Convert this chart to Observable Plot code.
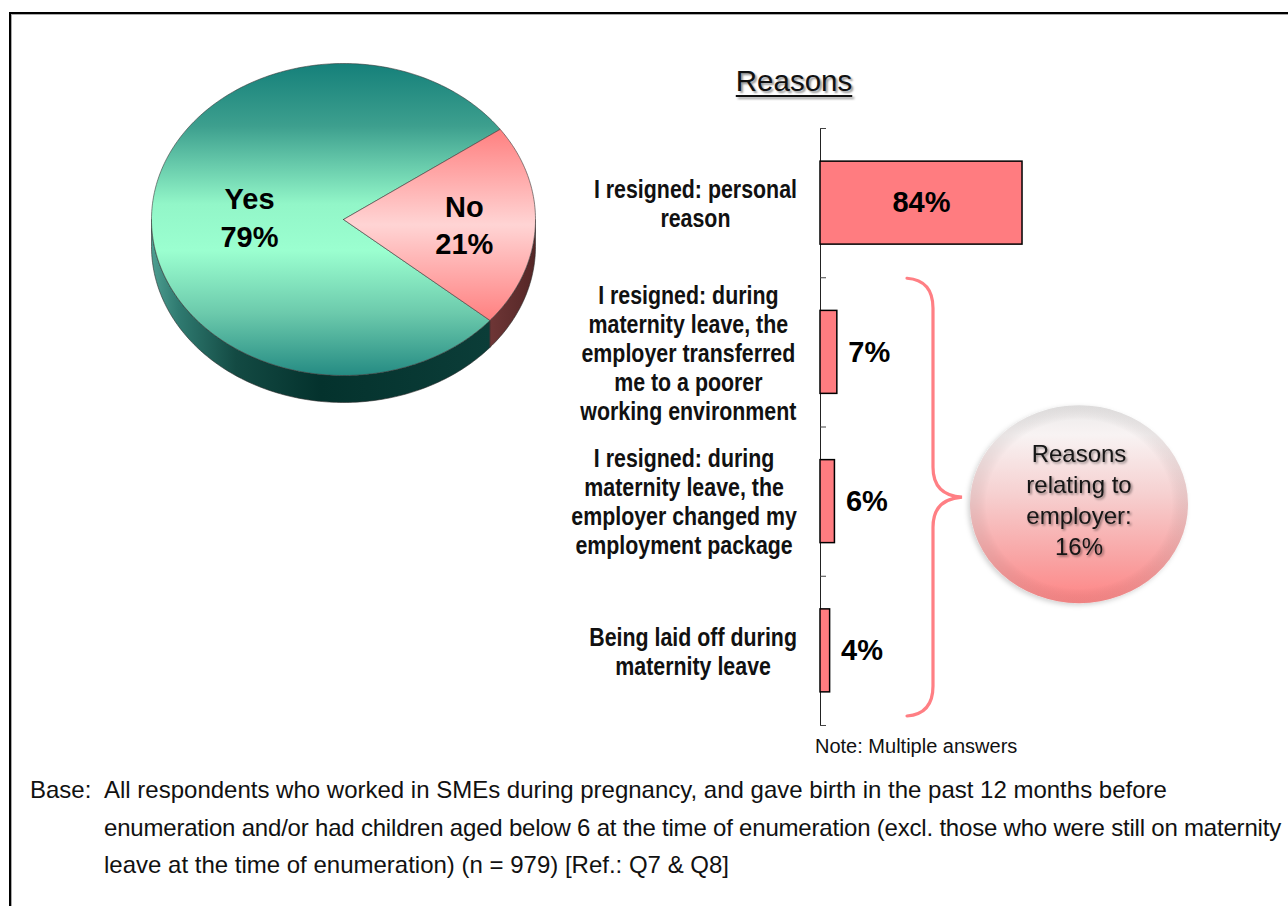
<!DOCTYPE html>
<html>
<head>
<meta charset="utf-8">
<script src="https://cdn.jsdelivr.net/npm/d3@7"></script>
<script src="https://cdn.jsdelivr.net/npm/@observablehq/plot@0.6"></script>
<style>
html, body { margin: 0; padding: 0; background: #fff; overflow: hidden; }
#root { position: relative; width: 1288px; height: 906px; overflow: hidden; background: #fff;
  font-family: "Liberation Sans", Arial, sans-serif; color: #111; }
#root svg { position: absolute; }
#frame { position: absolute; left: 9px; top: 12px; width: 1400px; height: 1000px;
  border-top: 2px solid #000; border-left: 2px solid #000; box-shadow: inset 1px 1px 0 #aaa; }
#title { position: absolute; left: 694px; top: 63px; width: 200px; text-align: center;
  font-size: 29.5px; line-height: 36px; text-decoration: underline; text-underline-offset: 4px;
  text-decoration-thickness: 2px; color: #111; text-shadow: 2px 2px 2px #999; }
#note { position: absolute; left: 815px; top: 734px; font-size: 20px; line-height: 24px; white-space: nowrap; }
#base { position: absolute; left: 30px; top: 771px; font-size: 24px; line-height: 37.5px; white-space: nowrap; }
#base .lbl { display: inline-block; width: 74px; }
#base .ind { padding-left: 74px; }
#base .t1 { letter-spacing: -0.2px; }
</style>
</head>
<body>
<div id="root"></div>
<script>
// ---------------- data ----------------
const pieCategories = ["Yes", "No"];
const pieValues = [79, 21];

const reasonCategories = [
  "I resigned: personal\nreason",
  "I resigned: during\nmaternity leave, the\nemployer transferred\nme to a poorer\nworking environment",
  "I resigned: during\nmaternity leave, the\nemployer changed my\nemployment package",
  "Being laid off during\nmaternity leave"
];
const reasonValues = [84, 7, 6, 4];

const employerLabel = ["Reasons", "relating to", "employer:"];
const employerShare = 16;

const titleText = "Reasons";
const noteText = "Note: Multiple answers";
const baseLabel = "Base:";
const baseLines = [
  "All respondents who worked in SMEs during pregnancy, and gave birth in the past 12 months before",
  "enumeration and/or had children aged below 6 at the time of enumeration (excl. those who were still on maternity",
  "leave at the time of enumeration) (n = 979) [Ref.: Q7 & Q8]"
];

// ---------------- layout / style constants ----------------
const FONT = "Liberation Sans, Arial, sans-serif";
const PIE_START = 35.3;      // degrees, counter-clockwise from 3 o'clock
const PIE_DEPTH = 0.173;     // side depth in y units of the pie scale
const PIE_LABEL_R = {Yes: 0.49, No: 0.63};
const BAR_PAD = 0.222;
const LABEL_RIGHT = 797;     // page x of the right edge of the category label blocks
const LABEL_SQUEEZE = 0.855; // narrow (condensed) look of the category labels

const root = document.getElementById("root");

function defsMark(markup) {
  return () => {
    const g = document.createElementNS("http://www.w3.org/2000/svg", "g");
    g.innerHTML = markup;
    return g;
  };
}

// ---------------- pie ----------------
const total = d3.sum(pieValues);
let acc = PIE_START;
const slices = pieCategories.map((c, i) => {
  const a0 = acc, a1 = acc + pieValues[i] / total * 360;
  acc = a1;
  return {cat: c, value: pieValues[i], a0, a1, mid: (a0 + a1) / 2};
});
const rad = (a) => a * Math.PI / 180;
function arcPts(a0, a1, dy = 0) {
  const n = Math.max(2, Math.ceil(Math.abs(a1 - a0)));
  return d3.range(n + 1).map(k => {
    const t = rad(a0 + (a1 - a0) * k / n);
    return {x: Math.cos(t), y: Math.sin(t) + dy};
  });
}
const topFill = {Yes: "url(#gYesTop)", No: "url(#gNoTop)"};
const sideFill = {Yes: "url(#gYesSide)", No: "url(#gNoSide)"};

const sideMarks = [];
const topMarks = [];
slices.forEach(s => {
  for (const base of [180, 540]) {
    const lo = Math.max(s.a0, base), hi = Math.min(s.a1, base + 180);
    if (hi > lo) {
      const pts = [...arcPts(lo, hi), ...arcPts(hi, lo, -PIE_DEPTH)];
      pts.push(pts[0]);
      sideMarks.push(Plot.line(pts, {x: "x", y: "y", fill: sideFill[s.cat], stroke: "#2b2b2b", strokeWidth: 0.6, strokeLinejoin: "round"}));
    }
  }
  const pts = [{x: 0, y: 0}, ...arcPts(s.a0, s.a1), {x: 0, y: 0}];
  topMarks.push(Plot.line(pts, {x: "x", y: "y", fill: topFill[s.cat], stroke: "#3a3a3a", strokeWidth: 0.6, strokeLinejoin: "round"}));
});

const pieDefs = defsMark(`<defs>
<linearGradient id="gYesTop" x1="0" y1="0" x2="0" y2="1">
  <stop offset="0" stop-color="#15807a"/>
  <stop offset="0.2" stop-color="#3d9f8e"/>
  <stop offset="0.45" stop-color="#92f6c8"/>
  <stop offset="0.6" stop-color="#9bffd0"/>
  <stop offset="0.8" stop-color="#6ccaac"/>
  <stop offset="1" stop-color="#258b83"/>
</linearGradient>
<linearGradient id="gNoTop" x1="0" y1="0" x2="0" y2="1">
  <stop offset="0" stop-color="#ff8080"/>
  <stop offset="0.5" stop-color="#ffd4d4"/>
  <stop offset="1" stop-color="#ff8080"/>
</linearGradient>
<linearGradient id="gYesSide" x1="0" y1="0" x2="1" y2="0">
  <stop offset="0" stop-color="#4e9e91"/>
  <stop offset="0.08" stop-color="#2f7a70"/>
  <stop offset="0.25" stop-color="#134a43"/>
  <stop offset="0.5" stop-color="#04322d"/>
  <stop offset="1" stop-color="#0b3d38"/>
</linearGradient>
<linearGradient id="gNoSide" x1="0" y1="0" x2="1" y2="0">
  <stop offset="0" stop-color="#6e3636"/>
  <stop offset="1" stop-color="#542626"/>
</linearGradient>
</defs>`);

const pie = Plot.plot({
  width: 560, height: 430,
  style: {background: "transparent", overflow: "visible"},
  x: {domain: [-1, 1], range: [151, 535], axis: null},
  y: {domain: [-1, 1], range: [375, 63], axis: null},
  marks: [
    pieDefs,
    ...sideMarks,
    ...topMarks,
    Plot.text(slices, {
      x: d => PIE_LABEL_R[d.cat] * Math.cos(rad(d.mid)),
      y: d => PIE_LABEL_R[d.cat] * Math.sin(rad(d.mid)),
      text: d => `${d.cat}\n${d.value}%`,
      fontFamily: FONT, fontSize: 29, fontWeight: "bold", lineHeight: 1.28, fill: "#000"
    })
  ]
});
pie.style.left = "0px"; pie.style.top = "0px";
root.appendChild(pie);

// ---------------- bars ----------------
const rows = reasonCategories.map((c, i) => ({label: c, value: reasonValues[i], i}));

const barDefs = defsMark(`<defs>
<linearGradient id="gBubble" x1="0" y1="0" x2="0" y2="1">
  <stop offset="0" stop-color="#ebe9e9"/>
  <stop offset="0.15" stop-color="#f8f3f3"/>
  <stop offset="0.45" stop-color="#f6d0d0"/>
  <stop offset="0.8" stop-color="#f9a0a0"/>
  <stop offset="1" stop-color="#ff8484"/>
</linearGradient>
<radialGradient id="gBubbleEdge" cx="0.5" cy="0.5" r="0.5">
  <stop offset="0.85" stop-color="#000" stop-opacity="0"/>
  <stop offset="1" stop-color="#777" stop-opacity="0.12"/>
</radialGradient>
<filter id="fBubbleShadow" x="-20%" y="-20%" width="140%" height="140%">
  <feDropShadow dx="-2" dy="2" stdDeviation="2.5" flood-color="#000" flood-opacity="0.18"/>
</filter>
<filter id="fTextShadow" x="-20%" y="-20%" width="140%" height="140%">
  <feDropShadow dx="1.5" dy="1.5" stdDeviation="1" flood-color="#000" flood-opacity="0.45"/>
</filter>
</defs>`);

function annotations(index, scales) {
  const g = d3.create("svg:g");
  const x0 = scales.x(0);
  const yT = scales.y(1) + 1, yB = scales.y(rows.length) - 9, yM = (yT + yB) / 2;
  const bx = x0 + 87, bm = x0 + 113, bt = x0 + 142;
  g.append("path")
    .attr("d", `M${bx},${yT} Q${bm},${yT + 2} ${bm},${yT + 30} L${bm},${yM - 30} Q${bm},${yM - 2} ${bt},${yM} Q${bm},${yM + 2} ${bm},${yM + 30} L${bm},${yB - 30} Q${bm},${yB - 2} ${bx},${yB}`)
    .attr("fill", "none").attr("stroke", "#ff7f84").attr("stroke-width", 3.2).attr("stroke-linecap", "round");
  const cx = x0 + 259, cy = yM + 7;
  g.append("ellipse").attr("cx", cx).attr("cy", cy).attr("rx", 109).attr("ry", 99)
    .attr("fill", "url(#gBubble)").attr("filter", "url(#fBubbleShadow)");
  g.append("ellipse").attr("cx", cx).attr("cy", cy).attr("rx", 109).attr("ry", 99)
    .attr("fill", "url(#gBubbleEdge)");
  const lines = [...employerLabel, `${employerShare}%`];
  const t = g.append("text").attr("text-anchor", "middle").attr("font-family", FONT)
    .attr("font-size", 24).attr("fill", "#141414").attr("filter", "url(#fTextShadow)");
  lines.forEach((l, k) => t.append("tspan").attr("x", cx)
    .attr("y", cy - 4 - 1.5 * 31 + k * 31).attr("dy", "0.35em").text(l));
  return g.node();
}

const bar = Plot.plot({
  width: 728, height: 680,
  style: {background: "transparent", overflow: "visible"},
  x: {domain: [0, 100], range: [260, 500.5], axis: null},
  y: {domain: [0, rows.length], range: [28, 625], axis: null},
  marks: [
    barDefs,
    Plot.ruleX([0], {y1: 0, y2: rows.length, stroke: "#222", strokeWidth: 1}),
    Plot.ruleY(d3.range(rows.length + 1), {y: d => d, x1: 0, x2: 2.5, stroke: "#444", strokeWidth: 1}),
    Plot.rect(rows, {x1: 0, x2: "value", y1: d => d.i + BAR_PAD, y2: d => d.i + 1 - BAR_PAD,
      fill: "#ff7c80", stroke: "#000", strokeWidth: 1.5}),
    Plot.text(rows, {x: 0, y: d => d.i + 0.5, text: "label", dx: -110, textAnchor: "middle",
      fontFamily: FONT, fontSize: 25, fontWeight: "bold", lineHeight: 1.16, fill: "#111"}),
    Plot.text(rows.filter(d => d.value >= 20), {x: d => d.value / 2, y: d => d.i + 0.5,
      text: d => `${d.value}%`, fontFamily: FONT, fontSize: 29, fontWeight: "bold", fill: "#000"}),
    Plot.text(rows.filter(d => d.value < 20), {x: "value", y: d => d.i + 0.5, dx: 11, textAnchor: "start",
      text: d => `${d.value}%`, fontFamily: FONT, fontSize: 29, fontWeight: "bold", fill: "#000"}),
    annotations
  ]
});
bar.style.left = "560px"; bar.style.top = "100px";
root.appendChild(bar);

// condense each centred label block and align its right edge with the axis gap
const flatLabels = new Set(reasonCategories.map(c => c.replace(/\n/g, "")));
bar.querySelectorAll("text").forEach(t => {
  if (!flatLabels.has(t.textContent)) return;
  const r = t.getBoundingClientRect();
  const ctm = t.parentNode.getScreenCTM();
  const rParent = (r.right - ctm.e) / ctm.a;
  const target = (LABEL_RIGHT - ctm.e) / ctm.a;
  const old = t.getAttribute("transform") || "";
  t.setAttribute("transform", `translate(${target},0) scale(${LABEL_SQUEEZE},1) translate(${-rParent},0) ${old}`);
});

// ---------------- html texts ----------------
const title = document.createElement("div");
title.id = "title"; title.textContent = titleText; root.appendChild(title);

const note = document.createElement("div");
note.id = "note"; note.textContent = noteText; root.appendChild(note);

const base = document.createElement("div");
base.id = "base";
base.innerHTML = `<div><span class="lbl"></span><span class="t0"></span></div><div class="ind t1"></div><div class="ind t2"></div>`;
base.querySelector(".lbl").textContent = baseLabel;
base.querySelector(".t0").textContent = baseLines[0];
base.querySelector(".t1").textContent = baseLines[1];
base.querySelector(".t2").textContent = baseLines[2];
root.appendChild(base);

const frame = document.createElement("div");
frame.id = "frame"; root.appendChild(frame);
</script>
</body>
</html>
